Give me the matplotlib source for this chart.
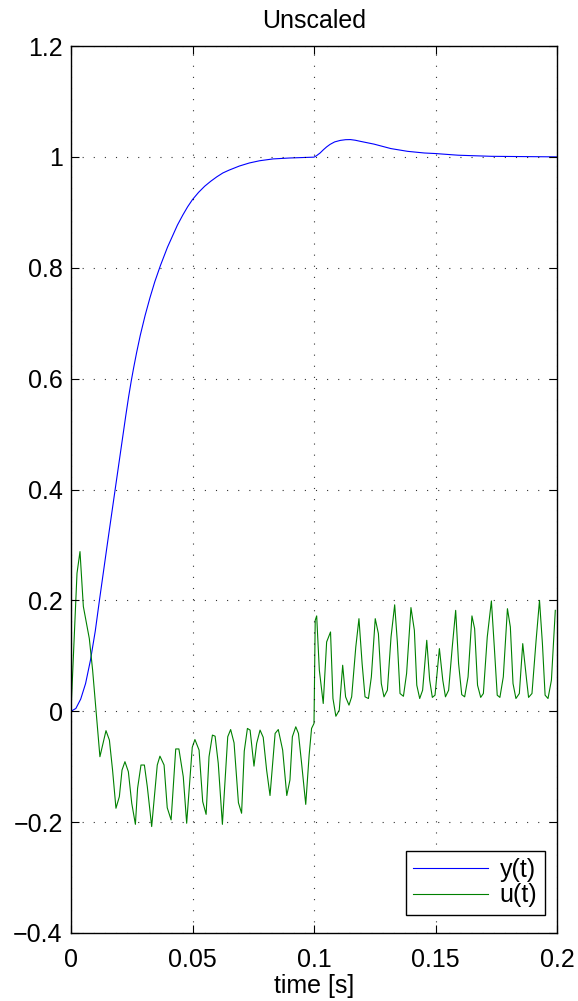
import matplotlib
matplotlib.use("Agg")
import matplotlib.pyplot as plt

plt.rcParams['font.family'] = ['Liberation Sans', 'DejaVu Sans']

# ---- data ----
t_y = [0, 0.002, 0.004, 0.006, 0.008, 0.010, 0.0117, 0.015, 0.0183, 0.0204, 0.0225,
       0.0237, 0.0248, 0.0258, 0.0270, 0.0285, 0.0305, 0.0325, 0.0345, 0.0368, 0.0397,
       0.0438, 0.046, 0.048, 0.050, 0.0525, 0.055, 0.0575, 0.060, 0.0625, 0.065,
       0.0693, 0.0734, 0.0776, 0.0831, 0.090, 0.100, 0.101, 0.1025, 0.1039, 0.1052,
       0.1066, 0.1085, 0.1108, 0.113, 0.115, 0.117, 0.1191, 0.1247, 0.1316, 0.1385,
       0.1454, 0.150, 0.1593, 0.1731, 0.200]
y_vals = [0, 0.005, 0.022, 0.050, 0.092, 0.145, 0.200, 0.303, 0.404, 0.468, 0.532,
          0.567, 0.596, 0.620, 0.647, 0.678, 0.714, 0.746, 0.775, 0.804, 0.837,
          0.877, 0.895, 0.910, 0.923, 0.936, 0.947, 0.956, 0.964, 0.971, 0.976,
          0.9835, 0.989, 0.993, 0.9963, 0.998, 0.9995, 1.002, 1.007, 1.013, 1.018,
          1.0225, 1.027, 1.0297, 1.031, 1.0312, 1.030, 1.028, 1.023, 1.015, 1.010,
          1.007, 1.006, 1.003, 1.001, 1.000]

t_u = [0, 0.00247, 0.0037, 0.00508, 0.00754, 0.0089, 0.0103, 0.0119, 0.0144, 0.0158,
       0.0171, 0.0185, 0.0199, 0.0210, 0.0222, 0.0236, 0.0250, 0.0265, 0.0274, 0.0288,
       0.0302, 0.0314, 0.0332, 0.0355, 0.0366, 0.0383, 0.0396, 0.0412, 0.0431, 0.0444,
       0.0462, 0.0476, 0.0499, 0.0510, 0.0527, 0.0542, 0.0556, 0.0568, 0.0582, 0.0593,
       0.0606, 0.0623, 0.0645, 0.0657, 0.0671, 0.0689, 0.0702, 0.0713, 0.0726, 0.0737,
       0.0753, 0.0764, 0.0778, 0.0791, 0.0805, 0.0819, 0.0840, 0.0853, 0.0871, 0.0888,
       0.0901, 0.0911, 0.0925, 0.0936, 0.0949, 0.0966, 0.0980, 0.0990, 0.1000,
       0.1005, 0.1011, 0.1022, 0.1038, 0.1052, 0.1068, 0.1078, 0.1090, 0.1104, 0.1118,
       0.1130, 0.1144, 0.1155, 0.1172, 0.1185, 0.1198, 0.1210, 0.1224, 0.1236, 0.1252,
       0.1265, 0.1277, 0.1288, 0.1302, 0.1317, 0.1332, 0.1343, 0.1354, 0.1368, 0.1381,
       0.1399, 0.1413, 0.1423, 0.1435, 0.1447, 0.1464, 0.1476, 0.1487, 0.1498, 0.1516,
       0.1530, 0.1541, 0.1554, 0.1569, 0.1583, 0.1595, 0.1608, 0.1620, 0.1634, 0.1650,
       0.1661, 0.1673, 0.1686, 0.1697, 0.1713, 0.1730, 0.1742, 0.1754, 0.1765, 0.1779,
       0.1796, 0.1808, 0.1819, 0.1831, 0.1845, 0.1859, 0.1875, 0.1883, 0.1897, 0.1914,
       0.1928, 0.1940, 0.1951, 0.1963, 0.1977, 0.1993]
u_vals = [0, 0.249, 0.288, 0.189, 0.131, 0.074, 0.002, -0.082, -0.035, -0.052,
          -0.106, -0.175, -0.154, -0.106, -0.091, -0.109, -0.166, -0.204, -0.139, -0.097,
          -0.097, -0.136, -0.208, -0.097, -0.081, -0.097, -0.174, -0.196, -0.068, -0.068,
          -0.118, -0.202, -0.065, -0.051, -0.070, -0.163, -0.186, -0.082, -0.043, -0.045,
          -0.094, -0.204, -0.046, -0.033, -0.057, -0.165, -0.184, -0.072, -0.031, -0.034,
          -0.099, -0.058, -0.034, -0.047, -0.106, -0.152, -0.040, -0.033, -0.070, -0.152,
          -0.124, -0.046, -0.028, -0.040, -0.094, -0.168, -0.079, -0.031, -0.022,
          0.164, 0.172, 0.074, 0.014, 0.125, 0.143, 0.023, -0.009, 0.002, 0.083,
          0.026, 0.011, 0.026, 0.116, 0.167, 0.086, 0.026, 0.023, 0.062, 0.167,
          0.140, 0.050, 0.026, 0.038, 0.134, 0.192, 0.125, 0.032, 0.027, 0.068,
          0.187, 0.146, 0.047, 0.023, 0.038, 0.128, 0.056, 0.025, 0.029, 0.113,
          0.056, 0.026, 0.038, 0.116, 0.182, 0.086, 0.030, 0.026, 0.062, 0.172,
          0.149, 0.047, 0.025, 0.032, 0.134, 0.199, 0.116, 0.029, 0.025, 0.062,
          0.185, 0.152, 0.050, 0.023, 0.032, 0.122, 0.056, 0.025, 0.032, 0.128,
          0.200, 0.122, 0.029, 0.023, 0.056, 0.182]

x_ticks = [0, 0.05, 0.1, 0.15, 0.2]
x_ticklabels = ['0', '0.05', '0.1', '0.15', '0.2']
y_ticks = [-0.4, -0.2, 0, 0.2, 0.4, 0.6, 0.8, 1, 1.2]
y_ticklabels = ['\u22120.4', '\u22120.2', '0', '0.2', '0.4', '0.6', '0.8', '1', '1.2']

title = 'Unscaled'
xlabel = 'time [s]'
legend_labels = ['y(t)', 'u(t)']

# ---- figure ----
W, H = 578, 1001
fig = plt.figure(figsize=(W / 100, H / 100), dpi=100)
left, right, top, bottom = 71, 557, 46, 933
ax = fig.add_axes([left / W, 1 - bottom / H, (right - left) / W, (bottom - top) / H])

ax.plot(t_y, y_vals, color=(0, 0, 1), lw=0.8, label=legend_labels[0])
ax.plot(t_u, u_vals, color=(0, 0.5, 0), lw=0.8, label=legend_labels[1])

ax.set_xlim(0, 0.2)
ax.set_ylim(-0.4, 1.2)
ax.set_xticks(x_ticks)
ax.set_xticklabels(x_ticklabels)
ax.set_yticks(y_ticks)
ax.set_yticklabels(y_ticklabels)

fs = 18
ax.tick_params(direction='in', length=6, width=0.8, top=True, right=True,
               labelsize=fs, color='black')
ax.tick_params(axis='x', pad=10.5)
ax.tick_params(axis='y', pad=6)
for s in ax.spines.values():
    s.set_linewidth(1.0)
    s.set_color('black')

ax.grid(True, color='black', linestyle=(0, (1, 9)), lw=0.8, alpha=0.8)
ax.set_axisbelow(False)

ax.set_title(title, fontsize=fs, pad=13)
ax.set_xlabel(xlabel, fontsize=fs, labelpad=2)

leg = ax.legend(loc='lower right', bbox_to_anchor=(0.975, 0.0203), borderaxespad=0,
                fontsize=fs, handlelength=3.0, handletextpad=0.45, labelspacing=0.05,
                borderpad=0.3, fancybox=False, framealpha=1, edgecolor='black')
leg.get_frame().set_linewidth(1.0)

fig.savefig('out.png', dpi=100)
